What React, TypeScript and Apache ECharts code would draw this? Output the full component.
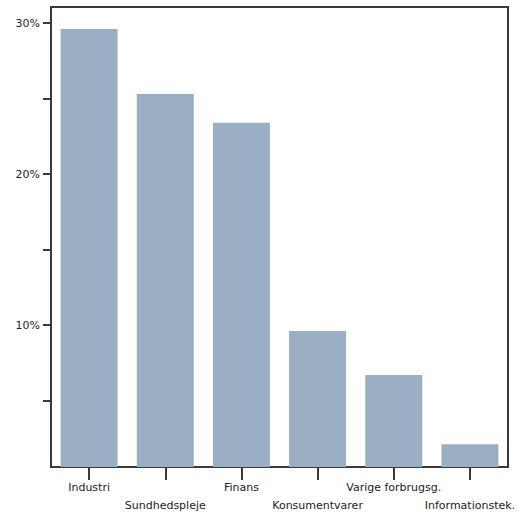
import React, { useEffect, useRef } from "react";
import * as echarts from "echarts";

const categories = [
  "Industri",
  "Sundhedspleje",
  "Finans",
  "Konsumentvarer",
  "Varige forbrugsg.",
  "Informationstek.",
];
const values = [29.6, 25.3, 23.4, 9.6, 6.7, 2.1];
const yTickValues = [5, 10, 15, 20, 25, 30];
const yLabelValues = [10, 20, 30];

export default function App() {
  const ref = useRef<HTMLDivElement>(null);
  useEffect(() => {
    if (!ref.current) return;
    const chart = echarts.init(ref.current, undefined, { renderer: "svg" });
    const axisColor = "#3a3a3a";
    chart.setOption({
      animation: false,
      backgroundColor: "#ffffff",
      grid: {
        left: 51,
        right: 11,
        top: 7,
        height: 460,
        show: true,
        borderColor: axisColor,
        borderWidth: 2,
        backgroundColor: "transparent",
      },
      xAxis: [
        {
          type: "category",
          data: categories,
          position: "bottom",
          boundaryGap: true,
          axisLine: { show: true, lineStyle: { color: axisColor, width: 2 } },
          axisTick: {
            show: true,
            alignWithLabel: true,
            inside: false,
            length: 13,
            lineStyle: { color: axisColor, width: 2 },
          },
          axisLabel: {
            interval: 0,
            margin: 11,
            fontFamily: "DejaVu Sans",
            fontSize: 11,
            color: "#222",
            lineHeight: 18,
            formatter: (v: string, i: number) => (i % 2 === 1 ? "\n" + v : v),
          },
          splitLine: { show: false },
        },
        {
          type: "category",
          data: categories,
          position: "bottom",
          boundaryGap: true,
          axisLine: { show: false },
          axisTick: {
            show: true,
            alignWithLabel: true,
            inside: true,
            length: 9,
            lineStyle: { color: axisColor, width: 2 },
          },
          axisLabel: { show: false },
          splitLine: { show: false },
        },
      ],
      yAxis: {
        type: "value",
        min: 0.6,
        max: 31.06,
        axisLine: { show: true, lineStyle: { color: axisColor, width: 2 } },
        axisTick: {
          show: true,
          length: 8,
          customValues: yTickValues,
          lineStyle: { color: axisColor, width: 2 },
        },
        axisLabel: {
          customValues: yLabelValues,
          margin: 11,
          fontFamily: "DejaVu Sans",
          fontSize: 11,
          color: "#222",
          formatter: (v: number) => `${v}%`,
        },
        splitLine: { show: false },
      },
      series: [
        {
          type: "bar",
          data: values,
          xAxisIndex: 0,
          barWidth: 57,
          itemStyle: { color: "#9aafc3" },
          clip: true,
        },
      ],
    });
    return () => chart.dispose();
  }, []);
  return (
    <div
      ref={ref}
      style={{ position: "absolute", left: 0, top: 0, width: 519, height: 518 }}
    />
  );
}
